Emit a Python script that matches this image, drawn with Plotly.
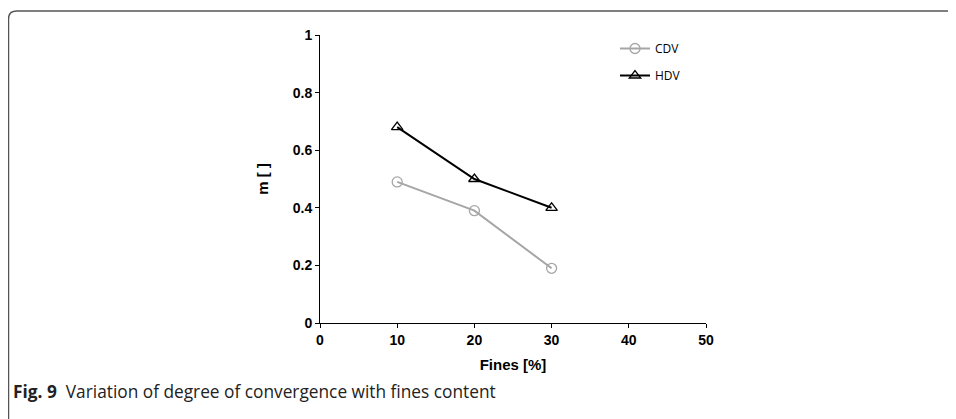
import plotly.graph_objects as go

fines = [10, 20, 30]
cdv = [0.49, 0.39, 0.19]
hdv = [0.68, 0.50, 0.40]
x_ticks = [0, 10, 20, 30, 40, 50]
y_ticks = [0, 0.2, 0.4, 0.6, 0.8, 1]
y_tick_labels = ["0", "0.2", "0.4", "0.6", "0.8", "1"]

OFF = 8  # page body margin
W, H = 956 - OFF, 419 - OFF
L, R, T, B = 320 - OFF, 250, 35 - OFF, 96
pw, ph = W - L - R, H - T - B

def px(x):
    return (x - OFF - L) / pw

def py(y):
    return (H - B - (y - OFF)) / ph

fig = go.Figure()
fig.add_trace(go.Scatter(
    x=fines, y=cdv, name="CDV", mode="lines+markers", legendgroup="a",
    line=dict(color="#a6a6a6", width=2),
    marker=dict(symbol="circle-open", size=10, color="#a6a6a6", line=dict(width=1.3)),
))
fig.add_trace(go.Scatter(
    x=fines, y=hdv, name="HDV", mode="lines+markers", legendgroup="b",
    line=dict(color="black", width=2),
    marker=dict(symbol="triangle-up-open", size=10, color="black", line=dict(width=1.3)),
))

axis_font = dict(family="Liberation Sans, Arial", size=14, color="black", weight="bold")
fig.update_xaxes(
    range=[0, 50], tickvals=x_ticks, showgrid=False, zeroline=False,
    showline=True, linecolor="black", linewidth=1,
    ticks="outside", ticklen=4, tickcolor="black",
    tickfont=axis_font,
    title=dict(text="<b>Fines [%]</b>", font=dict(family="Liberation Sans, Arial", size=15, color="black"), standoff=12),
)
fig.update_yaxes(
    range=[0, 1], tickvals=y_ticks, ticktext=y_tick_labels, showgrid=False, zeroline=False,
    showline=True, linecolor="black", linewidth=1,
    ticks="outside", ticklen=4, tickcolor="black",
    tickfont=axis_font,
    title=dict(text="<b>m [ ]</b>", font=dict(family="Liberation Sans, Arial", size=15, color="black"), standoff=20),
)

# frame: top line and left line joined by a rounded corner
r = 8
path = (f"M {px(8.5)},{py(H + OFF + 5)} L {px(8.5)},{py(11 + r)} "
        f"Q {px(8.5)},{py(11)} {px(8.5 + r)},{py(11)} L {px(W + OFF + 5)},{py(11)}")
fig.add_shape(type="path", xref="paper", yref="paper", path=path,
              line=dict(color="#555555", width=1.5))

fig.add_annotation(
    xref="paper", yref="paper", x=px(11), y=py(391), xanchor="left", yanchor="middle",
    text="<b>Fig. 9</b>  Variation of degree of convergence with fines content",
    showarrow=False, font=dict(family="Open Sans, Noto Sans", size=17.3, color="#222222"),
)

fig.update_layout(
    width=W, height=H,
    margin=dict(l=L, r=R, t=T, b=B),
    plot_bgcolor="white", paper_bgcolor="white",
    showlegend=True,
    legend=dict(x=px(615), y=py(34), xanchor="left", yanchor="top",
                font=dict(family="Open Sans, Noto Sans", size=12, color="black"),
                itemwidth=30, tracegroupgap=8, bgcolor="rgba(0,0,0,0)"),
)

fig.write_html("out.html")
